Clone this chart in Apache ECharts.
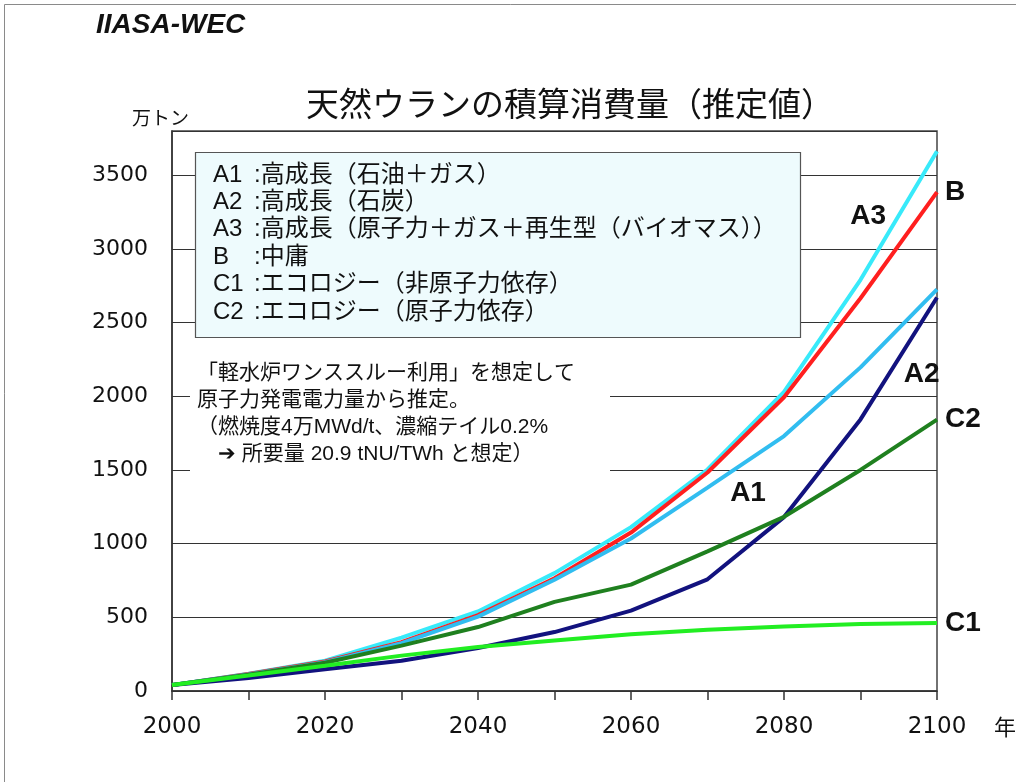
<!DOCTYPE html>
<html>
<head>
<meta charset="utf-8">
<script src="https://cdn.jsdelivr.net/npm/echarts@6/dist/echarts.min.js"></script>
<style>
  html, body { margin: 0; padding: 0; background: #fff; }
  #chart { width: 1016px; height: 782px; }
</style>
</head>
<body>
<div id="chart"></div>
<script>
// Cumulative natural uranium consumption by IIASA-WEC scenario (10^4 t)
const years = [2000, 2010, 2020, 2030, 2040, 2050, 2060, 2070, 2080, 2090, 2100];
const A1 = [40, 112, 195, 325, 505, 755, 1035, 1380, 1730, 2196, 2725];
const A2 = [40, 88, 148, 205, 292, 400, 545, 758, 1180, 1843, 2670];
const A3 = [40, 118, 206, 362, 540, 800, 1112, 1503, 2030, 2790, 3663];
const B  = [40, 115, 200, 332, 515, 765, 1075, 1483, 1993, 2665, 3385];
const C1 = [40, 105, 172, 240, 298, 342, 385, 415, 437, 455, 462];
const C2 = [40, 110, 192, 308, 434, 605, 722, 947, 1182, 1500, 1842];

const yTicks = [0, 500, 1000, 1500, 2000, 2500, 3000, 3500];

const legendRows = [
  ['A1', ':高成長（石油＋ガス）'],
  ['A2', ':高成長（石炭）'],
  ['A3', ':高成長（原子力＋ガス＋再生型（バイオマス））'],
  ['B',  ':中庸'],
  ['C1', ':エコロジー（非原子力依存）'],
  ['C2', ':エコロジー（原子力依存）']
];
const noteLines = [
  '「軽水炉ワンススルー利用」を想定して',
  '原子力発電電力量から推定。',
  '（燃焼度4万MWd/t、濃縮テイル0.2%',
  '　➔ 所要量 20.9 tNU/TWh と想定）'
];

const FONT = 'Liberation Sans, "Noto Sans CJK JP", sans-serif';
const pairs = vals => years.map((y, i) => [y, vals[i]]);

function lineSeries(name, vals, color, extra) {
  return Object.assign({
    name: name,
    type: 'line',
    data: pairs(vals),
    symbol: 'none',
    lineStyle: { color: color, width: 4 },
    itemStyle: { color: color },
    z: 3
  }, extra || {});
}

// curve tag placed at a data coordinate, centred on it
function tag(text, x, y) {
  return {
    symbol: 'circle', symbolSize: 0, silent: true,
    data: [{ coord: [x, y], value: text }],
    label: {
      show: true, position: 'inside', formatter: text,
      color: '#111', fontFamily: 'Liberation Sans', fontWeight: 'bold', fontSize: 28
    }
  };
}
function endTag(text) {
  return {
    show: true, formatter: text, distance: 8,
    color: '#111', fontFamily: 'Liberation Sans', fontWeight: 'bold', fontSize: 28
  };
}

const graphics = [
  // page frame
  { type: 'polyline', shape: { points: [[4.5, 782], [4.5, 4.5], [1016, 4.5]] },
    style: { stroke: '#8a8a8a', lineWidth: 1, fill: null }, z: 200 },
  { type: 'text', x: 96, y: 25,
    style: { text: 'IIASA-WEC', font: 'italic bold 28px Liberation Sans', fill: '#111',
             verticalAlign: 'middle' }, z: 200 },
  { type: 'text', x: 570, y: 103,
    style: { text: '天然ウランの積算消費量（推定値）', font: '33px "Noto Sans CJK JP"', fill: '#111',
             align: 'center', verticalAlign: 'middle' }, z: 200 },
  { type: 'text', x: 132, y: 118,
    style: { text: '万トン', font: '19px "Noto Sans CJK JP"', fill: '#111', verticalAlign: 'middle' }, z: 200 },
  { type: 'text', x: 994, y: 727,
    style: { text: '年', font: '22px "Noto Sans CJK JP"', fill: '#111', verticalAlign: 'middle' }, z: 200 },
  // scenario legend box
  { type: 'rect', shape: { x: 195.5, y: 152.5, width: 605, height: 185 },
    style: { fill: '#eefbfd', stroke: '#555', lineWidth: 1.2 }, z: 100 },
  // note background
  { type: 'rect', shape: { x: 190, y: 356, width: 420, height: 124 },
    style: { fill: '#fff' }, z: 100 }
];
legendRows.forEach((r, i) => {
  const y = 175 + i * 27.4;
  graphics.push({ type: 'text', x: 213, y: y,
    style: { text: r[0], font: '24px ' + FONT, fill: '#111', verticalAlign: 'middle' }, z: 101 });
  graphics.push({ type: 'text', x: 254, y: y,
    style: { text: r[1], font: '24px ' + FONT, fill: '#111', verticalAlign: 'middle' }, z: 101 });
});
noteLines.forEach((t, i) => {
  graphics.push({ type: 'text', x: 197, y: 373 + i * 27,
    style: { text: t, font: '21px ' + FONT, fill: '#111', verticalAlign: 'middle' }, z: 101 });
});

const chart = echarts.init(document.getElementById('chart'), null, { renderer: 'canvas' });
chart.setOption({
  animation: false,
  backgroundColor: '#fff',
  grid: { left: 172, right: 79, top: 131, bottom: 91, show: true,
          borderColor: '#444', borderWidth: 1.5, backgroundColor: 'transparent' },
  xAxis: {
    type: 'value', min: 2000, max: 2100, interval: 10,
    axisLine: { lineStyle: { color: '#333', width: 1.5 } },
    axisTick: { show: true, inside: false, length: 9, lineStyle: { color: '#333', width: 1.5 } },
    axisLabel: {
      margin: 25, color: '#111', fontFamily: 'DejaVu Sans', fontSize: 23,
      formatter: v => (v % 20 === 0 ? String(v) : '')
    },
    splitLine: { show: false }
  },
  yAxis: {
    type: 'value', min: 0, max: 3800, interval: 500,
    axisLine: { show: true, lineStyle: { color: '#333', width: 1.5 } },
    axisTick: { show: false },
    axisLabel: {
      margin: 24, color: '#111', fontFamily: 'DejaVu Sans', fontSize: 22,
      showMaxLabel: false,
      formatter: v => (yTicks.indexOf(v) >= 0 ? String(v) : '')
    },
    splitLine: { show: true, lineStyle: { color: '#333', width: 1.2 } }
  },
  series: [
    lineSeries('A3', A3, '#38eafa', { markPoint: tag('A3', 2091, 3220) }),
    lineSeries('B', B, '#ff1f1f', { endLabel: endTag('B') }),
    lineSeries('A1', A1, '#31bdf0', { markPoint: tag('A1', 2075.3, 1340) }),
    lineSeries('A2', A2, '#12127e', { markPoint: tag('A2', 2098, 2150) }),
    lineSeries('C2', C2, '#1f801f', { endLabel: endTag('C2') }),
    lineSeries('C1', C1, '#22ee22', { endLabel: endTag('C1') })
  ],
  graphic: graphics
});
</script>
</body>
</html>
